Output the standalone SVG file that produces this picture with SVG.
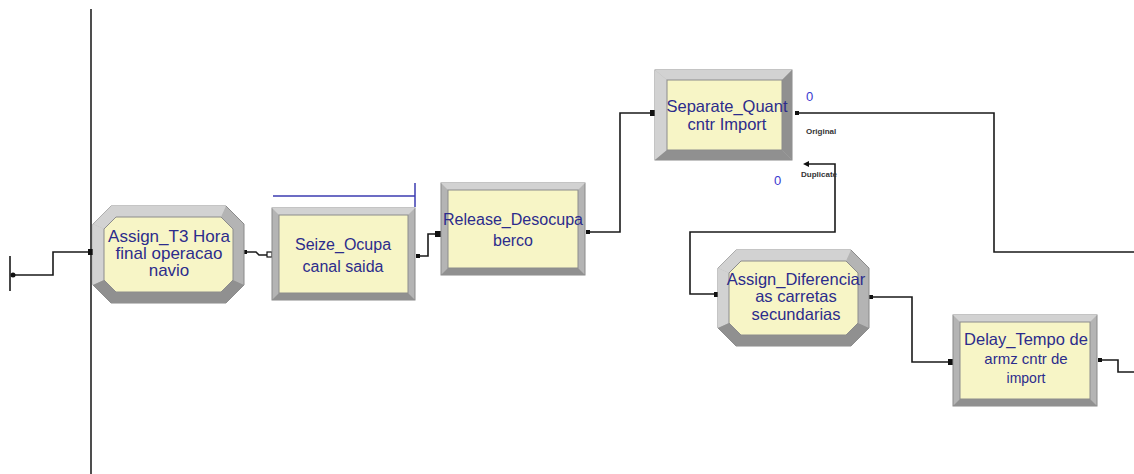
<svg xmlns="http://www.w3.org/2000/svg" width="1134" height="474" viewBox="0 0 1134 474">
<style>
.frame{fill:#b4b4b4;stroke:#8a8a8a;stroke-width:1}
.light{fill:#d2d2d2}
.dark{fill:#909090}
.inner{fill:#f7f5c6;stroke:#8c8c8c;stroke-width:1}
.t{font-family:"Liberation Sans",Arial,sans-serif;fill:#2c2c8c;text-anchor:middle}
.w{fill:none;stroke:#1a1a1a;stroke-width:1.6}
.dot{fill:#111}
.zero{font-family:"Liberation Sans",Arial,sans-serif;font-size:13px;fill:#3a3ad0}
.lbl{font-family:"Liberation Sans",Arial,sans-serif;font-size:8px;fill:#333;font-weight:bold}
</style>
<rect width="1134" height="474" fill="#ffffff"/>
<line x1="91" y1="9" x2="91" y2="474" stroke="#222" stroke-width="1.6"/>
<g id="connectors">
<path class="w" d="M10 256 V291"/>
<path class="w" d="M13 275 H53 V252 H91"/>
<circle class="dot" cx="13" cy="275" r="2.5"/>
<rect class="dot" x="88" y="249" width="6" height="6"/>
<path class="w" d="M245 252 H256 L259 255 H268"/>
<rect class="dot" x="244" y="250" width="3" height="4"/>
<rect x="267" y="252" width="5" height="5" fill="#fff" stroke="#111" stroke-width="1.2"/>
<path class="w" d="M417 256 H428 V234 H438"/>
<rect class="dot" x="416" y="254" width="4" height="4"/>
<rect class="dot" x="435" y="231" width="6" height="6"/>
<path class="w" d="M587 232 H620 V113 H652"/>
<rect class="dot" x="586" y="230" width="4" height="4"/>
<rect class="dot" x="650" y="110" width="5" height="6"/>
<path class="w" d="M797 113 H994 V252 H1134"/>
<rect class="dot" x="795" y="111" width="4" height="4"/>
<path class="w" d="M806 164 H835 V232 H690 V294 H716"/>
<path class="dot" d="M803 164 L809 161 L809 167 Z"/>
<rect class="dot" x="714" y="292" width="5" height="5"/>
<path class="w" d="M871 297 H912 V362 H950"/>
<rect class="dot" x="869" y="295" width="4" height="4"/>
<rect class="dot" x="948" y="359" width="6" height="6"/>
<path class="w" d="M1100 360 H1118 V372 H1134"/>
<rect class="dot" x="1098" y="358" width="4" height="4"/>
</g>
<g id="assign_t3">
<polygon class="frame" points="111,206 226,206 244,224 244,285 226,303 111,303 93,285 93,224"/>
<polygon class="light" points="111,206 226,206 221,217 116,217 104,229 93,224"/>
<polygon class="light" points="93,224 104,229 104,280 93,285"/>
<polygon class="dark" points="93,285 104,280 116,292 221,292 233,280 244,285 226,303 111,303"/>
<polygon class="inner" points="116,217 221,217 233,229 233,280 221,292 116,292 104,280 104,229"/>
<text class="t" font-size="17" x="169" y="242">Assign_T3 Hora</text>
<text class="t" font-size="17" x="169" y="259">final operacao</text>
<text class="t" font-size="17" x="169" y="276">navio</text>
</g>
<g id="seize">
<line x1="273" y1="196" x2="415" y2="196" stroke="#3b3bb0" stroke-width="1.5"/>
<line x1="415" y1="183" x2="415" y2="207" stroke="#3b3bb0" stroke-width="1.5"/>
<rect class="frame" x="272" y="208" width="143" height="92"/>
<polygon class="light" points="272,208 415,208 408,215 279,215"/>
<polygon class="dark" points="272,300 279,293 408,293 415,300"/>
<rect class="inner" x="279" y="215" width="129" height="78"/>
<text class="t" font-size="16" x="343" y="250">Seize_Ocupa</text>
<text class="t" font-size="16" x="343" y="272">canal saida</text>
</g>
<g id="release">
<rect class="frame" x="441" y="183" width="144" height="92"/>
<polygon class="light" points="441,183 585,183 578,190 448,190"/>
<polygon class="dark" points="441,275 448,268 578,268 585,275"/>
<rect class="inner" x="448" y="190" width="130" height="78"/>
<text class="t" font-size="16" x="513" y="225" textLength="140" lengthAdjust="spacingAndGlyphs">Release_Desocupa</text>
<text class="t" font-size="16" x="513" y="246">berco</text>
</g>
<g id="separate">
<rect class="frame" x="655" y="70" width="137" height="90"/>
<polygon class="light" points="655,70 792,70 782,80 667,80"/>
<polygon class="light" points="655,70 667,80 667,150 655,160"/>
<polygon class="dark" points="655,160 667,150 782,150 792,160"/>
<polygon class="dark" points="792,70 782,80 782,150 792,160"/>
<rect class="inner" x="667" y="80" width="115" height="70"/>
<text class="t" font-size="16.5" x="727" y="112">Separate_Quant</text>
<text class="t" font-size="16.5" x="727" y="130">cntr Import</text>
<text class="zero" x="806" y="101">0</text>
<text class="lbl" x="806" y="134">Original</text>
<text class="zero" x="774" y="185">0</text>
<text class="lbl" x="801" y="177">Duplicate</text>
</g>
<g id="assign_diferenciar">
<polygon class="frame" points="736,250 851,250 869,268 869,328 851,346 736,346 718,328 718,268"/>
<polygon class="light" points="736,250 851,250 846,261 741,261 729,273 718,268"/>
<polygon class="light" points="718,268 729,273 729,323 718,328"/>
<polygon class="dark" points="718,328 729,323 741,335 846,335 858,323 869,328 851,346 736,346"/>
<polygon class="inner" points="741,261 846,261 858,273 858,323 846,335 741,335 729,323 729,273"/>
<text class="t" font-size="16.5" x="796" y="285">Assign_Diferenciar</text>
<text class="t" font-size="16.5" x="796" y="302">as carretas</text>
<text class="t" font-size="16.5" x="796" y="320">secundarias</text>
</g>
<g id="delay">
<rect class="frame" x="953" y="315" width="144" height="91"/>
<polygon class="light" points="953,315 1097,315 1090,322 960,322"/>
<polygon class="dark" points="953,406 960,399 1090,399 1097,406"/>
<rect class="inner" x="960" y="322" width="130" height="77"/>
<text class="t" font-size="16.5" x="1026" y="345">Delay_Tempo de</text>
<text class="t" font-size="15" x="1026" y="364">armz cntr de</text>
<text class="t" font-size="14" x="1026" y="383">import</text>
</g>
</svg>
